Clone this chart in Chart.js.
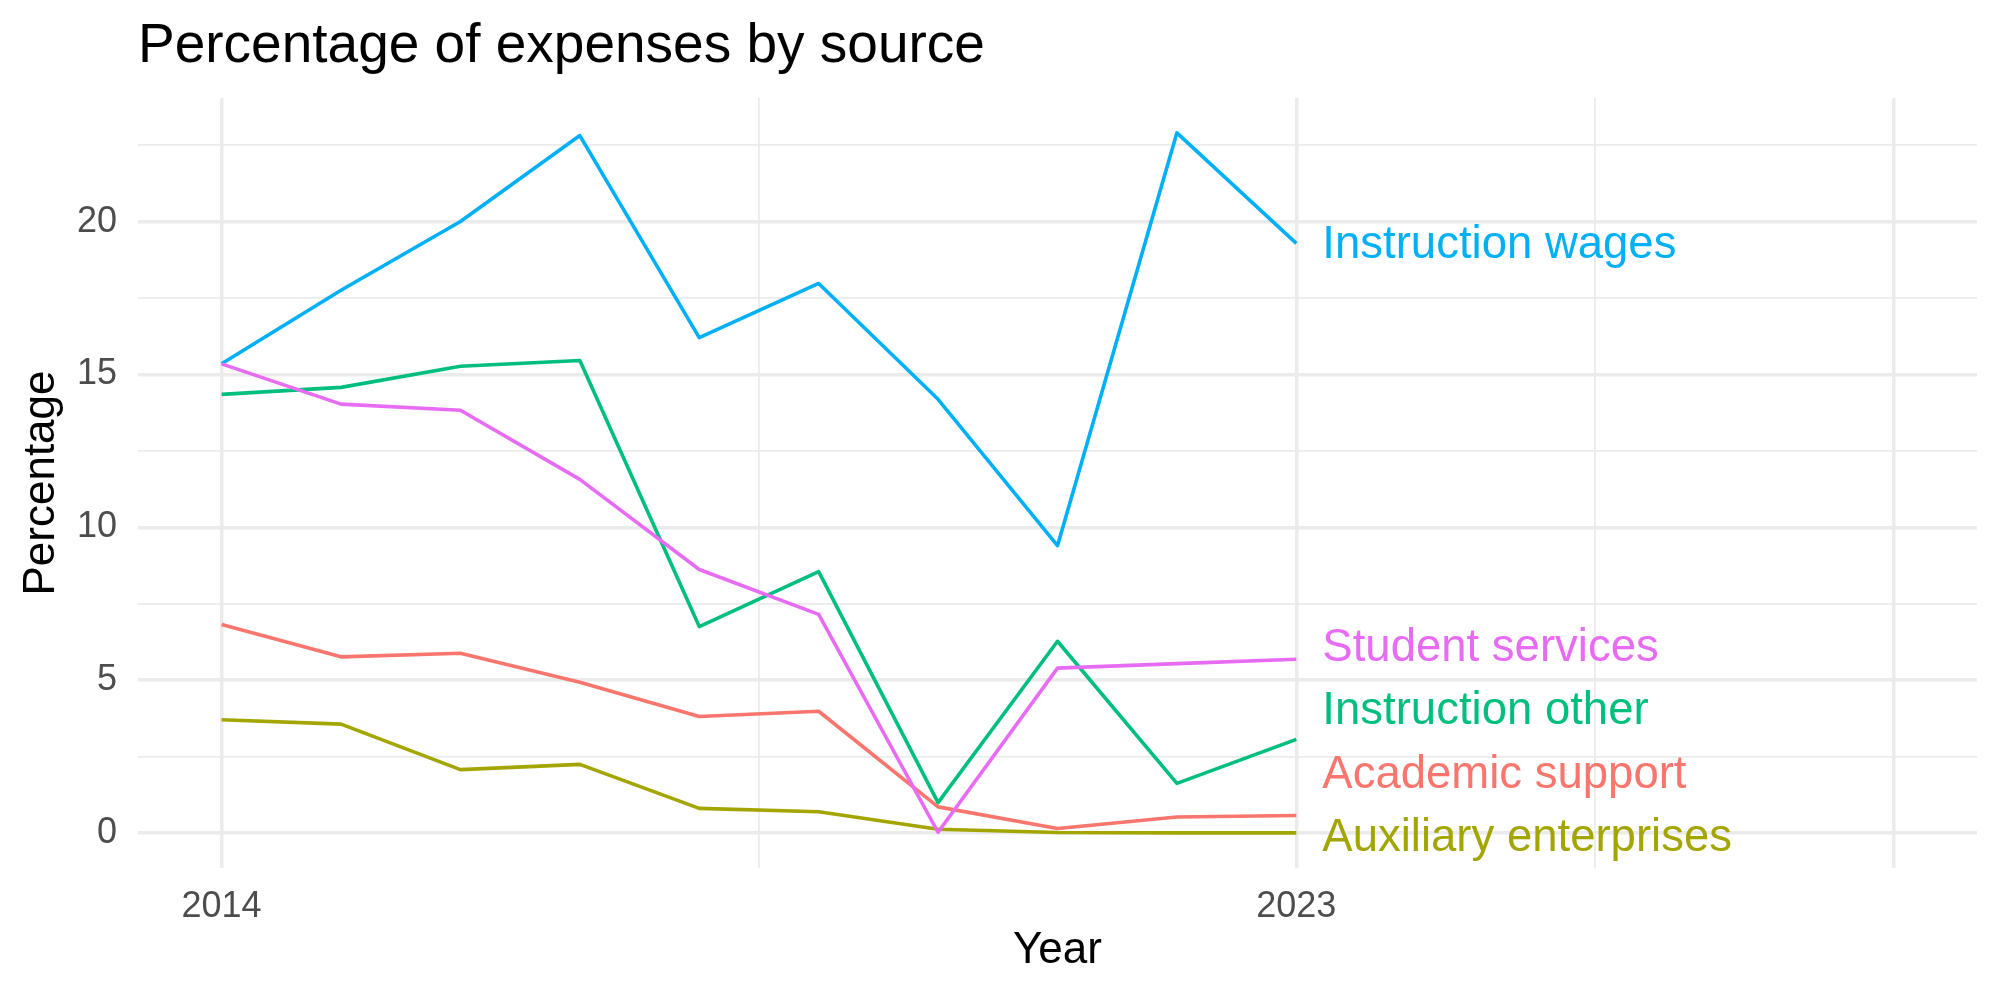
<!DOCTYPE html>
<html>
<head>
<meta charset="utf-8">
<title>Percentage of expenses by source</title>
<script src="https://cdn.jsdelivr.net/npm/chart.js@4.4.0/dist/chart.umd.min.js"></script>
<style>
    html, body { margin: 0; padding: 0; background: #ffffff; }
    #chart { display: block; }
</style>
</head>
<body>
<canvas id="chart" width="2000" height="1000"></canvas>
<script>
"use strict";

const years = [2014, 2015, 2016, 2017, 2018, 2019, 2020, 2021, 2022, 2023];

const academicSupport = [6.82, 5.76, 5.88, 4.93, 3.81, 3.98, 0.85, 0.14, 0.52, 0.57];
const auxiliaryEnterprises = [3.70, 3.56, 2.07, 2.24, 0.80, 0.69, 0.12, 0.01, 0.00, 0.00];
const instructionOther = [14.35, 14.58, 15.27, 15.46, 6.75, 8.55, 0.99, 6.27, 1.62, 3.06];
const instructionWages = [15.35, 17.76, 20.01, 22.82, 16.21, 17.98, 14.19, 9.40, 22.91, 19.29];
const studentServices = [15.35, 14.03, 13.83, 11.57, 8.62, 7.15, 0.02, 5.39, 5.54, 5.68];

const seriesNames = ["Academic support", "Auxiliary enterprises", "Instruction other", "Instruction wages", "Student services"];
const seriesValues = [academicSupport, auxiliaryEnterprises, instructionOther, instructionWages, studentServices];
const seriesColors = ["#F8766D", "#A3A500", "#00BF7D", "#00B0F6", "#E76BF3"];

const xMajorBreaks = [2014, 2023, 2028];
const xTickLabels = ["2014", "2023", ""];
const xMinorBreaks = [2018.5, 2025.5];
const yMajorBreaks = [0, 5, 10, 15, 20];
const yTickLabels = ["0", "5", "10", "15", "20"];
const yMinorBreaks = [2.5, 7.5, 12.5, 17.5, 22.5];

const FONT = "'Liberation Sans', Arial, Helvetica, sans-serif";
const GRID = "#EBEBEB";

function buildTicks(major, minor) {
    return major.concat(minor).sort((a, b) => a - b).map(v => ({value: v}));
}

function gridWidth(major) {
    return (c) => (c.tick && major.includes(c.tick.value) ? 3.5 : 1.8);
}

function tickLabel(major, labels) {
    return (value) => {
        const i = major.indexOf(value);
        return i >= 0 ? labels[i] : "";
    };
}

const titlePlugin = {
    id: "plotTitle",
    afterDraw(chart) {
        const ctx = chart.ctx;
        ctx.save();
        ctx.fillStyle = "#000000";
        ctx.font = `55px ${FONT}`;
        ctx.textAlign = "left";
        ctx.textBaseline = "alphabetic";
        ctx.fillText("Percentage of expenses by source", 138, 62);
        ctx.restore();
    }
};

// direct labels at the end of each line, pushed apart like ggrepel
const endLabels = {
    id: "endLabels",
    afterDatasetsDraw(chart) {
        const xs = chart.scales.x;
        const ys = chart.scales.y;
        const last = years.length - 1;
        const gap = 63.5;
        const items = seriesNames.map((name, i) => ({
            name: name,
            color: seriesColors[i],
            py: ys.getPixelForValue(seriesValues[i][last])
        }));
        items.sort((a, b) => b.py - a.py);
        items[0].py += 4;
        for (let i = 1; i < items.length; i++) {
            items[i].py = Math.min(items[i].py, items[i - 1].py - gap);
        }
        const ctx = chart.ctx;
        ctx.save();
        ctx.font = `45.5px ${FONT}`;
        ctx.textAlign = "left";
        ctx.textBaseline = "middle";
        items.forEach(item => {
            ctx.fillStyle = item.color;
            ctx.fillText(item.name, xs.getPixelForValue(years[last]) + 26, item.py + 2);
        });
        ctx.restore();
    }
};

function buildDatasets() {
    return seriesNames.map((name, i) => ({
        label: name,
        data: years.map((yr, j) => ({x: yr, y: seriesValues[i][j]})),
        borderColor: seriesColors[i],
        backgroundColor: seriesColors[i],
        borderWidth: 3.6,
        borderJoinStyle: "round",
        pointRadius: 0,
        tension: 0,
        order: seriesNames.length - i
    }));
}

const ctx = document.querySelector("#chart").getContext("2d");
const configuration = {
    type: "line",
    data: {
        datasets: buildDatasets()
    },
    options: {
        responsive: false,
        animation: false,
        devicePixelRatio: 1,
        layout: {
            padding: {top: 98, right: 23, bottom: 0, left: 0}
        },
        plugins: {
            legend: {display: false},
            tooltip: {enabled: false}
        },
        scales: {
            x: {
                type: "linear",
                min: 2013.3,
                max: 2028.7,
                afterBuildTicks: (scale) => { scale.ticks = buildTicks(xMajorBreaks, xMinorBreaks); },
                afterFit: (scale) => { scale.height = 132; },
                border: {display: false},
                grid: {
                    color: GRID,
                    lineWidth: gridWidth(xMajorBreaks),
                    drawTicks: false
                },
                ticks: {
                    autoSkip: false,
                    maxRotation: 0,
                    padding: 17,
                    color: "#4D4D4D",
                    font: {family: FONT, size: 36},
                    callback: tickLabel(xMajorBreaks, xTickLabels)
                },
                title: {
                    display: true,
                    text: "Year",
                    color: "#000000",
                    font: {family: FONT, size: 44, lineHeight: 1.2},
                    padding: {top: 0, bottom: 23}
                }
            },
            y: {
                type: "linear",
                min: -1.15,
                max: 24.05,
                afterBuildTicks: (scale) => { scale.ticks = buildTicks(yMajorBreaks, yMinorBreaks); },
                afterFit: (scale) => { scale.width = 138; },
                border: {display: false},
                grid: {
                    color: GRID,
                    lineWidth: gridWidth(yMajorBreaks),
                    drawTicks: false
                },
                ticks: {
                    autoSkip: false,
                    padding: 21,
                    color: "#4D4D4D",
                    font: {family: FONT, size: 36},
                    callback: tickLabel(yMajorBreaks, yTickLabels)
                },
                title: {
                    display: true,
                    text: "Percentage",
                    color: "#000000",
                    font: {family: FONT, size: 44, lineHeight: 1.2},
                    padding: {top: 15, bottom: 0}
                }
            }
        }
    },
    plugins: [titlePlugin, endLabels]
};
new Chart(ctx, configuration); //NOSONAR
</script>
</body>
</html>
